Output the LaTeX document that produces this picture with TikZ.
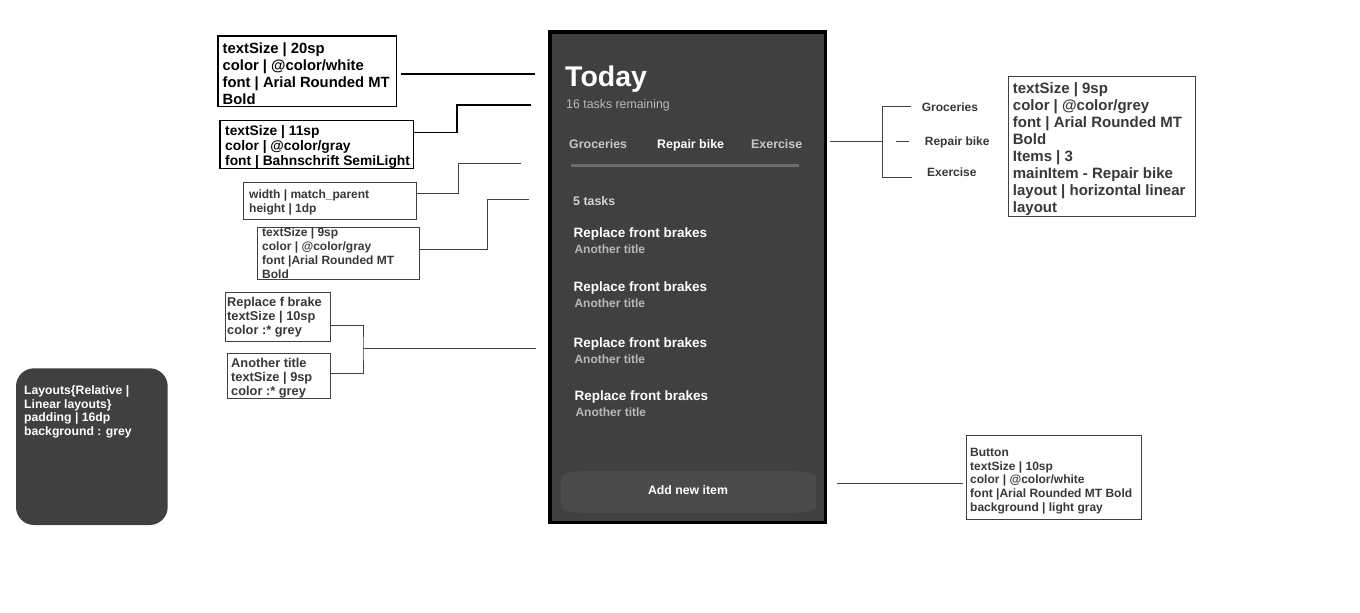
\documentclass[tikz,border=0pt]{standalone}
\usepackage{fontspec}
\setmainfont{Liberation Sans}
\definecolor{phbg}{HTML}{404040}
\definecolor{anno}{HTML}{383838}
\definecolor{annoline}{HTML}{404040}
\definecolor{tabgray}{HTML}{C8C8C8}
\definecolor{subgray}{HTML}{B8B8B8}
\definecolor{fivegray}{HTML}{D2D2D2}
\definecolor{divline}{HTML}{6C6C6C}
\definecolor{btnfill}{HTML}{4A4A4A}
\newcommand{\myfs}[2]{\fontsize{#1}{#2}\selectfont}
\begin{document}
\begin{tikzpicture}[x=1pt,y=-1pt,
  anbox/.style={draw=annoline, line width=1pt, anchor=north west, inner sep=0pt, outer sep=0pt},
  blkbox/.style={anbox, draw=black, line width=1.4pt},
  antxt/.style={anchor=base west, align=left, inner sep=0pt, text=anno},
  blktxt/.style={antxt, text=black},
  conn/.style={draw=annoline, line width=1pt},
  blkconn/.style={draw=black, line width=1.2pt},
  phtxt/.style={anchor=base west, inner sep=0pt},
  lbl/.style={anchor=base west, inner sep=0pt, text=anno, font=\bfseries\myfs{12}{14}},
]
\useasboundingbox[fill=white] (0,0) rectangle (1360,613);

% ---------- phone ----------
\node[draw=black, line width=3.5pt, fill=phbg, minimum width=275.2pt, minimum height=490.5pt, inner sep=0pt, outer sep=0pt, anchor=north west] (ph) at (550.05,31.75) {};
\node[phtxt, text=white, font=\bfseries\myfs{28.5}{32}] (today) at (565,86) {Today};
\node[phtxt, text=subgray, font=\myfs{12.6}{14}] (rem) at (566,108.5) {\scalebox{0.98}[1]{16 tasks remaining}};
\node[phtxt, text=tabgray, font=\bfseries\myfs{12.4}{14}] (tg) at (569,148) {Groceries};
\node[phtxt, text=white, font=\bfseries\myfs{12.4}{14}] (tr) at (657,148) {Repair bike};
\node[phtxt, text=tabgray, font=\bfseries\myfs{12.4}{14}] (te) at (751,148) {Exercise};
\node[fill=divline, minimum width=228pt, minimum height=3pt, inner sep=0pt] (div) at (685,165.5) {};
\node[phtxt, text=fivegray, font=\bfseries\myfs{12.4}{14}] (five) at (573,205) {5 tasks};
\node[phtxt, text=white, font=\bfseries\myfs{13.5}{15}] (r1) at (573.3,237.5) {Replace front brakes};
\node[phtxt, text=subgray, font=\bfseries\myfs{12}{14}] (a1) at (574.3,253.7) {Another title};
\node[phtxt, text=white, font=\bfseries\myfs{13.5}{15}] (r2) at (573.3,291) {Replace front brakes};
\node[phtxt, text=subgray, font=\bfseries\myfs{12}{14}] (a2) at (574.3,307) {Another title};
\node[phtxt, text=white, font=\bfseries\myfs{13.5}{15}] (r3) at (573.3,347.3) {Replace front brakes};
\node[phtxt, text=subgray, font=\bfseries\myfs{12}{14}] (a3) at (574.3,363.7) {Another title};
\node[phtxt, text=white, font=\bfseries\myfs{13.5}{15}] (r4) at (574.3,400.7) {Replace front brakes};
\node[phtxt, text=subgray, font=\bfseries\myfs{12}{14}] (a4) at (575.3,416.3) {Another title};
\fill[btnfill] (561,477) .. controls (561,472.5) and (576,471) .. (591,471) -- (786,471) .. controls (801,471) and (816,472.5) .. (816,477) -- (816,507) .. controls (816,511.5) and (801,513) .. (786,513) -- (591,513) .. controls (576,513) and (561,511.5) .. (561,507) -- cycle;
\node[anchor=base, inner sep=0pt, text=white, font=\bfseries\myfs{12.3}{14}] (btn) at (688,494) {Add new item};

% ---------- left annotations (text anchored at the baseline of the last line) ----------
\node[blkbox, minimum width=178.6pt, minimum height=70.6pt] (b1) at (218,36) {};
\node[blktxt, font=\bfseries\myfs{14.8}{17}] (t1) at (222.5,104)
  {textSize | 20sp\\color | @color/white\\font | Arial Rounded MT\\Bold};
\node[blkbox, minimum width=193.3pt, minimum height=47.9pt] (b2) at (220,120.7) {};
\node[blktxt, font=\bfseries\myfs{13.8}{14.7}] (t2) at (225,165)
  {textSize | 11sp\\color | @color/gray\\font | Bahnschrift SemiLight};
\node[anbox, minimum width=173pt, minimum height=37pt] (b3) at (243.2,182.8) {};
\node[antxt, font=\bfseries\myfs{12}{14}] (t3) at (249,212.5)
  {width | match\_parent\\height | 1dp};
\node[anbox, minimum width=162pt, minimum height=51.7pt] (b4) at (257.8,227.8) {};
\node[antxt, font=\bfseries\myfs{12}{13.8}] (t4) at (262,278)
  {textSize | 9sp\\color | @color/gray\\font |Arial Rounded MT\\Bold};
\node[anbox, minimum width=104.7pt, minimum height=49.6pt] (b5) at (225.5,292.2) {};
\node[antxt, font=\bfseries\myfs{12.8}{14}] (t5) at (227,334.5)
  {Replace f brake\\textSize | 10sp\\color :* grey};
\node[anbox, minimum width=102.4pt, minimum height=45pt] (b6) at (227.8,353.8) {};
\node[antxt, font=\bfseries\myfs{12.8}{14}] (t6) at (231,395.7)
  {Another title\\textSize | 9sp\\color :* grey};

\coordinate (c1) at (535,74);
\coordinate (c2s) at (0,132.7);
\coordinate (k2) at (457,105);
\coordinate (c2) at (531,105);
\coordinate (c3s) at (0,193.3);
\coordinate (k3) at (458.3,163.5);
\coordinate (c3) at (521,163.5);
\coordinate (c4s) at (0,249);
\coordinate (k4) at (487.7,199);
\coordinate (c4) at (529,199);
\coordinate (c5s) at (0,325.3);
\coordinate (c6s) at (0,373.3);
\coordinate (k5) at (363,348);
\coordinate (c5) at (536,348);

\draw[blkconn] ([xshift=4pt]b1.east |- c1) -- (c1);
\draw[blkconn] (b2.east |- c2s) -| (k2) -- (c2);
\draw[conn] (b3.east |- c3s) -| (k3) -- (c3);
\draw[conn] (b4.east |- c4s) -| (k4) -- (c4);
\draw[conn] (b5.east |- c5s) -| (k5) |- (b6.east |- c6s);
\draw[conn] (k5) -- (c5);

% ---------- layout box ----------
\node[fill=phbg, rounded corners=18pt, minimum width=151.7pt, minimum height=156.7pt, inner sep=0pt, outer sep=0pt, anchor=north west] (lay) at (16,368.3) {};
\node[anchor=base west, align=left, inner sep=0pt, text=white, font=\bfseries\myfs{12.2}{13.8}] (laytxt) at (24,435.7)
  {Layouts\{Relative |\\Linear layouts\}\\padding | 16dp\\background : grey};

% ---------- right annotations ----------
\node[lbl] (lg) at (921.7,111) {Groceries};
\node[lbl] (lr) at (924.7,145) {Repair bike};
\node[lbl] (lx) at (927,176.7) {Exercise};
\coordinate (c7) at (830,141.7);
\coordinate (k7) at (882.3,141.7);
\coordinate (kt) at (911,106);
\coordinate (kb) at (911.7,177.3);
\draw[conn] (c7) -- (k7);
\draw[conn] (kt) -| (k7) |- (kb);
\draw[conn] ([xshift=-29pt]lr.west) -- ([xshift=-16pt]lr.west);

\node[anbox, minimum width=186.4pt, minimum height=140.3pt] (b7) at (1008.8,76.5) {};
\node[antxt, font=\bfseries\myfs{15}{16.9}] (t7) at (1012.7,212)
  {textSize | 9sp\\color | @color/grey\\font | Arial Rounded MT\\Bold\\Items | 3\\mainItem - Repair bike\\layout | horizontal linear\\layout};

\node[anbox, minimum width=174.7pt, minimum height=84pt] (b8) at (966.5,435.5) {};
\node[antxt, font=\bfseries\myfs{12}{13.6}] (t8) at (970,511)
  {Button\\textSize | 10sp\\color | @color/white\\font |Arial Rounded MT Bold\\background | light gray};
\coordinate (c8) at (837.3,483.7);
\draw[conn] (c8) -- ([xshift=-4pt]b8.west |- c8);
\end{tikzpicture}
\end{document}
